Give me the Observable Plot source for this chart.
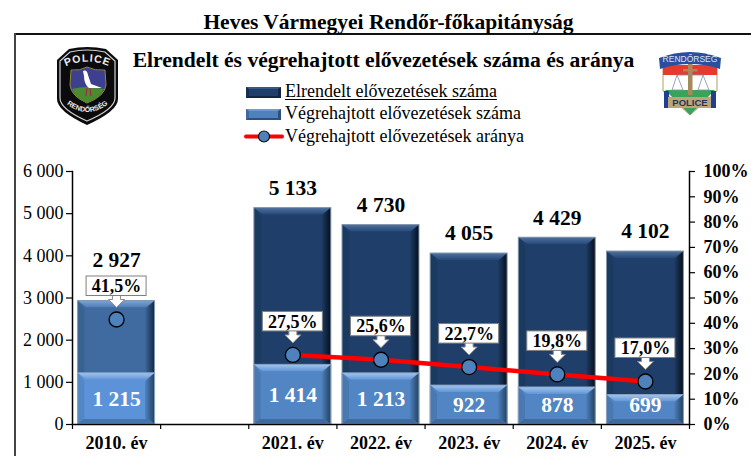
<!DOCTYPE html>
<html lang="hu">
<head>
<meta charset="utf-8">
<script src="https://cdn.jsdelivr.net/npm/d3@7"></script>
<script src="https://cdn.jsdelivr.net/npm/@observablehq/plot@0.6"></script>
<style>
html,body{margin:0;padding:0;background:#fff}
#page{position:relative;width:751px;height:456px;overflow:hidden;font-family:"Liberation Serif",serif;color:#000}
#page>div,#page>svg.logo{position:absolute}
#chart svg{display:block;font-family:"Liberation Serif",serif}
.title1{left:0;top:9px;width:777px;text-align:center;font-weight:bold;font-size:21.5px;line-height:26px}
.frameT{left:14px;top:33px;right:0;height:2px;background:#111}
.frameL{left:14px;top:33px;bottom:0;width:2px;background:#444}
.title2{left:0;top:47px;width:767px;text-align:center;font-weight:bold;font-size:21.6px;line-height:26px}
.leg{left:285px;font-size:18px;line-height:20px;white-space:nowrap}
.sw{left:246px;width:35px;height:11px;box-sizing:border-box;border-style:solid;border-width:2px 3px}
.mTop rect{clip-path:polygon(0 0,100% 0,calc(100% - 9px) 100%,9px 100%)}
.mBot rect{clip-path:polygon(6px 0,calc(100% - 6px) 0,100% 100%,0 100%)}
.mLeft rect{clip-path:polygon(0 0,100% 9px,100% calc(100% - 6px),0 100%)}
.mRight rect{clip-path:polygon(0 9px,100% 0,100% 100%,0 calc(100% - 6px))}
</style>
</head>
<body>
<div id="page">
  <div id="chart" style="left:0;top:0"></div>
  <div class="frameT"></div>
  <div class="frameL"></div>
  <div class="title1">Heves Vármegyei Rendőr-főkapitányság</div>
  <div class="title2">Elrendelt és végrehajtott elővezetések száma és aránya</div>

  <div class="sw" style="top:87px;background:#1f3f6a;border-color:#35588a #12263f #12263f #17304f"></div>
  <div class="leg" style="top:81px;text-decoration:underline;text-underline-offset:2px">Elrendelt elővezetések száma</div>
  <div class="sw" style="top:109px;background:#4f81bd;border-color:#6c9ad2 #2c4f7c #2c4f7c #3d6a9f"></div>
  <div class="leg" style="top:103px">Végrehajtott elővezetések száma</div>
  <div class="leg" style="top:126px">Végrehajtott elővezetések aránya</div>
  <svg class="logo" style="left:244px;top:127px" width="40" height="20">
    <line x1="2" x2="38" y1="9.5" y2="9.5" stroke="#f00" stroke-width="4" stroke-linecap="round"/>
    <circle cx="20" cy="9.5" r="5.5" fill="#4f81bd" stroke="#111" stroke-width="1.2"/>
  </svg>

  <svg class="logo" style="left:56px;top:47px" width="63" height="78" viewBox="0 0 63 78">
    <path d="M13,2 Q31,-2 50,2 L62,13 L62,52 Q62,64 31,78 Q1,64 1,52 L1,13 Z" fill="#0b0b0d"/>
    <path d="M14,5 Q31,1 49,5 L59,14 L59,51 Q59,62 31,74 Q4,62 4,51 L4,14 Z" fill="none" stroke="#cfcfcf" stroke-width="1.2"/>
    <path d="M15,23 Q24,24 31,20 Q39,24 49,23 L50,38 Q49,49 31,56 Q15,49 14,38 Z" fill="#3d3f8f" stroke="#8f8a3a" stroke-width="1"/>
    <path d="M16,42 Q31,38 48,42 Q44,51 31,56 Q19,51 16,42 Z" fill="#4b8a2e"/>
    <path d="M27,24 Q31,22 32,28 L35,37 L46,41 L33,41 Q28,37 28,29 Z" fill="#fff"/>
    <path d="M31,41 L30,49 M34,41 L35,49" stroke="#a32a4a" stroke-width="1.2"/>
    <path id="arcTop" d="M5,22 Q31,7 58,22" fill="none"/>
    <path id="arcBot" d="M3,50 Q31,80 60,50" fill="none"/>
    <text font-family="Liberation Sans" font-weight="bold" font-size="10.5" fill="#eee" letter-spacing="1"><textPath href="#arcTop" startOffset="50%" text-anchor="middle">POLICE</textPath></text>
    <text font-family="Liberation Sans" font-weight="bold" font-size="7" fill="#eee"><textPath href="#arcBot" startOffset="50%" text-anchor="middle">RENDŐRSÉG</textPath></text>
  </svg>

  <svg class="logo" style="left:658px;top:49px" width="64" height="68" viewBox="0 0 64 68">
    <path d="M5,10 L5,42 L32,66 L59,42 L59,10 Z" fill="#fff" stroke="#b79a6a" stroke-width="1"/>
    <path d="M5,16 H59 V26 H5 Z" fill="#e63a2e"/>
    <path d="M7,41 H57 L32,66 Z" fill="#3aa35a"/>
    <path d="M1,9 Q32,-3 63,9 L62,20 Q32,10 2,20 Z" fill="#2a4f9f"/>
    <text x="32" y="13" text-anchor="middle" font-family="Liberation Sans" font-size="8.5" fill="#dfe6f5">RENDŐRSÉG</text>
    <path d="M6,42 H11 V59 H6 Z M53,42 H58 V59 H53 Z" fill="#1f3f8f"/>
    <rect x="10" y="48" width="43" height="11" fill="#bda578"/>
    <text x="32" y="57" text-anchor="middle" font-family="Liberation Sans" font-weight="bold" font-size="9.5" fill="#1f3560">POLICE</text>
    <rect x="30" y="15" width="4.5" height="31" fill="#a68a5a"/>
    <rect x="25" y="20" width="14.5" height="2.5" fill="#a68a5a"/>
    <path d="M19,26 H45 M19,26 L14,41 H25 Z M45,26 L40,41 H51 Z" fill="none" stroke="#7f8fa5" stroke-width=".8"/>
  </svg>
</div>

<script>
// ---- data ----
const categories = ["2010. év", " ", "2021. év", "2022. év", "2023. év", "2024. év", "2025. év"];
const ordered    = [2927, null, 5133, 4730, 4055, 4429, 4102];
const executed   = [1215, null, 1414, 1213, 922, 878, 699];
const ratio      = [41.5, null, 27.5, 25.6, 22.7, 19.8, 17.0];
const yTicks     = [0, 1000, 2000, 3000, 4000, 5000, 6000];
const pctTicks   = [0, 10, 20, 30, 40, 50, 60, 70, 80, 90, 100];

// right axis (0-100 %) shares the left axis range (0-6000)
const pctScale = 6000 / 100;
const fmtN = d => d3.format(",")(d).replace(/,/g, " ");
const fmtP = d => d.toFixed(1).replace(".", ",") + "%";

const rows = categories.map((c, i) => ({
  cat: c, ordered: ordered[i], executed: executed[i], ratio: ratio[i],
  rY: ratio[i] == null ? null : ratio[i] * pctScale
}));
const present = rows.filter(d => d.ordered != null);
const first = present.slice(0, 1);
const later = present.slice(1);

const W = 751, H = 456, mL = 72, mR = 62, mT = 171, mB = 32;
const band = (W - mL - mR) / categories.length;
const gap = 5.6, bev = 7, side = 7;

const palOrdLater = {base:"#1f3f6a", top:"url(#topDark)", bot:"#16304f", l:"#1b3a60", r:"url(#rightDark)", edge:"#8797ad"};
const palOrdFirst = {base:"#3f6ba0", top:"url(#topMid)", bot:"#33587f", l:"#38628f", r:"url(#rightMid)", edge:"#7f97b5"};
const palExe      = {base:"#5285c4", top:"url(#topLight)", bot:"#3f6a9e", l:"#4a79b2", r:"url(#rightLight)", edge:"#8aa3c2"};
const palExeFirst = {base:"#5b92d8", top:"url(#topLight)", bot:"#4474ac", l:"#5287c4", r:"url(#rightLight)", edge:"#8aa3c2"};

function bevelBar(data, y1, y2, p) {
  const o = {x: "cat", y1, y2};
  const ins = {insetLeft: gap, insetRight: gap};
  return [
    Plot.barY(data, {...o, ...ins, fill: p.base}),
    Plot.barY(data, {...o, insetLeft: gap, insetRight: band - gap - side, fill: p.l, className: "mLeft"}),
    Plot.barY(data, {...o, insetRight: gap, insetLeft: band - gap - side * 1.4, fill: p.r, className: "mRight"}),
    Plot.barY(data, {x: "cat", y1: y2, y2, ...ins, insetBottom: -bev, fill: p.top, className: "mTop"}),
    Plot.barY(data, {x: "cat", y1, y2: y1, ...ins, insetTop: -bev * 0.7, fill: p.bot, className: "mBot"}),
    Plot.barY(data, {...o, ...ins, fill: "none", stroke: p.edge, strokeWidth: 1})
  ];
}

function defs() {
  const d = d3.create("svg:defs");
  const grad = (id, x2, y2, a, b) => {
    const g = d.append("linearGradient").attr("id", id)
      .attr("x1", 0).attr("y1", 0).attr("x2", x2).attr("y2", y2);
    g.append("stop").attr("offset", 0).attr("stop-color", a);
    g.append("stop").attr("offset", 1).attr("stop-color", b);
  };
  grad("topDark", 0, 1, "#4f719c", "#27497a");
  grad("topMid", 0, 1, "#7ea4d6", "#4d7cb4");
  grad("topLight", 0, 1, "#a3c5ef", "#6095d6");
  grad("rightDark", 1, 0, "#1f3f6a", "#060f1c");
  grad("rightMid", 1, 0, "#3f6ba0", "#132640");
  grad("rightLight", 1, 0, "#5285c4", "#22415f");
  return d.node();
}

// block arrow symbol of the value callouts, tip at the bottom
const arrow = {draw(ctx, size) {
  const s = Math.sqrt(size) / 2;
  ctx.moveTo(-s * .5, -s); ctx.lineTo(s * .5, -s); ctx.lineTo(s * .5, 0);
  ctx.lineTo(s, 0); ctx.lineTo(0, s); ctx.lineTo(-s, 0); ctx.lineTo(-s * .5, 0);
  ctx.closePath();
}};

const calloutW = 60;
const chart = Plot.plot({
  width: W, height: H,
  marginLeft: mL, marginRight: mR, marginTop: mT, marginBottom: mB,
  style: {background: "transparent", overflow: "visible"},
  x: {type: "band", domain: categories, padding: 0, round: false, label: null, axis: null},
  y: {domain: [0, 6000], label: null, axis: null},
  marks: [
    defs,
    ...bevelBar(first, () => 0, "ordered", palOrdFirst),
    ...bevelBar(later, () => 0, "ordered", palOrdLater),
    ...bevelBar(first, () => 0, "executed", palExeFirst),
    ...bevelBar(later, () => 0, "executed", palExe),

    Plot.frame({anchor: "left", stroke: "#000", strokeWidth: 1.5}),
    Plot.frame({anchor: "right", stroke: "#000", strokeWidth: 1.5}),
    Plot.frame({anchor: "bottom", stroke: "#000", strokeWidth: 1.5}),
    Plot.axisY({anchor: "left", ticks: yTicks, tickFormat: fmtN, tickSize: 6, tickPadding: 3,
      fontSize: 18, label: null, stroke: "#000", strokeWidth: 1.2}),
    Plot.axisY({anchor: "right", ticks: pctTicks.map(d => d * pctScale), tickFormat: d => Math.round(d / pctScale) + "%",
      tickSize: 5, tickPadding: 9, fontSize: 18, fontWeight: "bold", label: null, stroke: "#000", strokeWidth: 1.2}),
    Plot.ruleX(categories, {x: d => d, y: 0, dx: -band / 2, insetBottom: -5, stroke: "#000", strokeWidth: 1.2}),
    Plot.ruleX(categories.slice(-1), {x: d => d, y: 0, dx: band / 2, insetBottom: -5, stroke: "#000", strokeWidth: 1.2}),
    Plot.text(categories, {x: d => d, text: d => d, frameAnchor: "bottom", dy: 24, fontSize: 18, fontWeight: "bold", fill: "#000"}),

    Plot.line(rows, {x: "cat", y: "rY", stroke: "#f00", strokeWidth: 4.5}),
    Plot.dot(present, {x: "cat", y: "rY", r: 7.5, fill: "#4f81bd", stroke: "#000", strokeWidth: 1.3}),

    Plot.dot(present, {x: "cat", y: "rY", symbol: arrow, r: 9, dy: -20, fill: "#fff", stroke: "#8a8a8a", strokeWidth: 1}),
    Plot.barY(present, {x: "cat", y1: "rY", y2: "rY", dy: -43,
      insetBottom: -19.5, insetLeft: (band - calloutW) / 2, insetRight: (band - calloutW) / 2,
      fill: "#fff", stroke: "#7f7f7f", strokeWidth: 1}),
    Plot.text(present, {x: "cat", y: "rY", text: d => fmtP(d.ratio), dy: -33, fontSize: 18, fontWeight: "bold", fill: "#000"}),

    Plot.text(first, {x: "cat", y: "ordered", text: d => fmtN(d.ordered), dy: -41, fontSize: 21.5, fontWeight: "bold", fill: "#000"}),
    Plot.text(later, {x: "cat", y: "ordered", text: d => fmtN(d.ordered), dy: -20, fontSize: 21.5, fontWeight: "bold", fill: "#000"}),
    Plot.text(present, {x: "cat", y: d => Math.max(d.executed / 2, 470), text: d => fmtN(d.executed), fontSize: 21.5, fontWeight: "bold", fill: "#fff"})
  ]
});
document.getElementById("chart").append(chart);
</script>
</body>
</html>
